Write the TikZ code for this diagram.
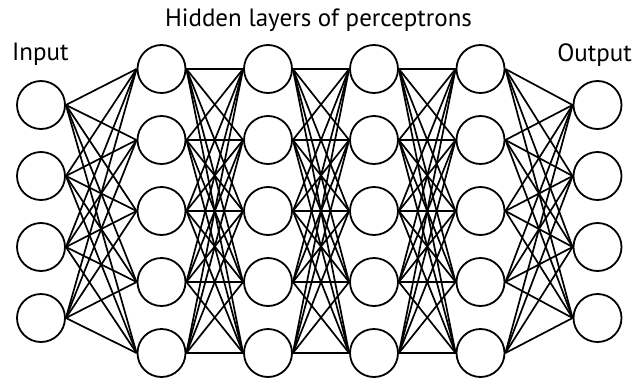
\documentclass[tikz,border=0pt]{standalone}
\usepackage{fontspec}
\setmainfont{PT Sans}
\begin{document}
\begin{tikzpicture}[
    x=1pt, y=-1pt,
    neuron/.style={draw, circle, line width=1.8pt, minimum size=48pt, inner sep=0pt},
    link/.style={line width=1.7pt},
    caption/.style={font=\fontsize{25}{30}\selectfont, inner sep=0pt}
  ]
  \useasboundingbox (0,0) rectangle (637,380);
  % input and output layers
  \foreach \i/\y in {1/105,2/176,3/247,4/318} {
    \node[neuron] (I\i) at (41,\y) {};
    \node[neuron] (O\i) at (597.5,\y) {};
  }
  % hidden layers
  \foreach \l/\x in {1/161.5,2/268,3/374,4/480.5}
    \foreach \j/\y in {1/69,2/140,3/211,4/282,5/353}
      \node[neuron] (H\l-\j) at (\x,\y) {};
  % connections
  \foreach \i in {1,...,4}
    \foreach \j in {1,...,5}
      \draw[link] (I\i.east) -- (H1-\j.west);
  \foreach \l/\m in {1/2,2/3,3/4}
    \foreach \j in {1,...,5}
      \foreach \k in {1,...,5}
        \draw[link] (H\l-\j.east) -- (H\m-\k.west);
  \foreach \j in {1,...,5}
    \foreach \k in {1,...,4}
      \draw[link] (H4-\j.east) -- (O\k.west);
  % labels
  \node[caption, anchor=base] (title) at (318.5,27) {Hidden layers of perceptrons};
  \node[caption, anchor=base west] (inlabel) at (12,60) {Input};
  \node[caption, anchor=base east] (outlabel) at (632,61) {Output};
\end{tikzpicture}
\end{document}
